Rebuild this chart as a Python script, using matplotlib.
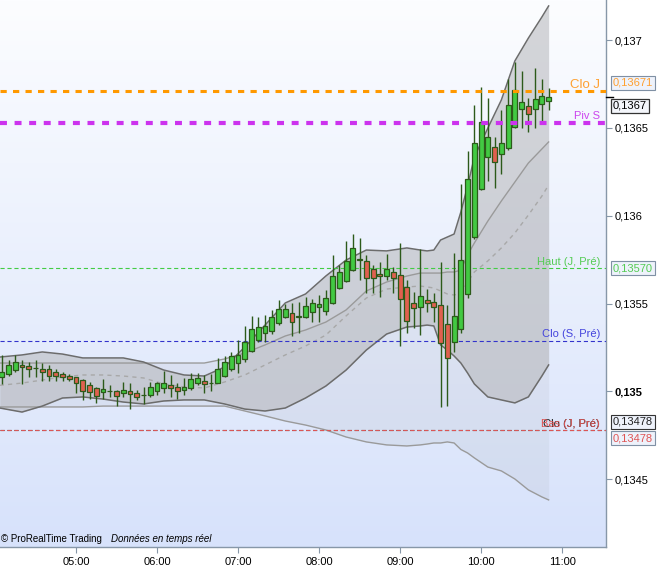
import numpy as np
import matplotlib
matplotlib.use('agg')
import matplotlib.pyplot as plt
import matplotlib.transforms as mtransforms
from matplotlib.colors import LinearSegmentedColormap

plt.rcParams['font.family'] = ['Liberation Sans', 'DejaVu Sans']
plt.rcParams['lines.scale_dashes'] = False

# 5 minute candles, first one at 04:05, prices in units of 0.00001
first_candle = (4, 5)
opens = [13508, 13510, 13512, 13515, 13514.5, 13513.5, 13513, 13513, 13511, 13510,
         13509, 13508, 13506.5, 13503.7, 13501.8, 13499.5, 13500, 13500, 13499, 13500,
         13499, 13498, 13497.8, 13500, 13502, 13503.5, 13502.3, 13500.8, 13502, 13504.6,
         13506, 13505, 13505, 13509, 13512.6, 13516.4, 13518.3, 13523.2, 13529.5, 13533.1,
         13534.6, 13538.8, 13542.6, 13544.5, 13542.2, 13542.2, 13545.4, 13548.3, 13545.8, 13550.6,
         13558.7, 13563.1, 13569.1, 13575.3, 13574.4, 13569.5, 13566.9, 13565.9, 13567.8, 13566.3,
         13559.3, 13550.2, 13548.3, 13551.8, 13550.7, 13549, 13538.2, 13528.3, 13535.4, 13555.3,
         13588.1, 13615, 13633.6, 13639.3, 13634.9, 13638.3, 13650.3, 13660.5, 13662.6, 13660.5,
         13663.4, 13665.5]
highs = [13521, 13518, 13521, 13518, 13517, 13518, 13516, 13515, 13513, 13511,
         13510, 13508.5, 13507, 13505.5, 13502.7, 13507, 13503.7, 13501, 13505.5, 13504.6,
         13500.8, 13502.7, 13505.5, 13505.5, 13511.8, 13509.4, 13504.6, 13507.5, 13510.7, 13510.7,
         13509.4, 13510, 13519, 13520, 13522.6, 13529.3, 13537, 13543, 13542.2, 13543.5,
         13546.4, 13552.1, 13549.8, 13550.2, 13551.1, 13554, 13552.6, 13554.9, 13557.8, 13577.7,
         13572, 13585.8, 13589.6, 13587.2, 13577.7, 13572, 13573.9, 13578.2, 13571, 13584.3,
         13563.4, 13556.8, 13580.9, 13558.1, 13555.8, 13573.5, 13549.2, 13579, 13618, 13637,
         13663, 13673.1, 13666.8, 13644.6, 13660.1, 13678.1, 13687.7, 13682.3, 13666.8, 13683.9,
         13678.1, 13672.7]
lows = [13504, 13509, 13511, 13504, 13508, 13508, 13506, 13506, 13506, 13506,
        13506, 13499, 13495, 13495.5, 13493.6, 13496, 13497, 13492, 13497, 13490,
        13495, 13492.8, 13497, 13498, 13499, 13497, 13496, 13498, 13501, 13503.7,
        13499, 13500, 13504.6, 13508, 13511.8, 13510.7, 13517, 13522.5, 13528.3, 13528.3,
        13533, 13538, 13541.6, 13531.6, 13533.5, 13541.6, 13539.7, 13539.7, 13543.5, 13549.8,
        13558.1, 13562.5, 13568.8, 13563.4, 13556.2, 13555.9, 13554, 13563.4, 13555.9, 13525.9,
        13533.1, 13535.9, 13532.1, 13545.4, 13539.7, 13491.3, 13491.9, 13522.6, 13533.1, 13553,
        13587, 13614.6, 13620, 13615.6, 13623.5, 13637.5, 13650, 13649.7, 13647.8, 13650.1,
        13653.5, 13660.3]
closes = [13511, 13515, 13517, 13514, 13513, 13513.5, 13511, 13509, 13509, 13508,
          13507, 13505, 13500.4, 13499.7, 13497.4, 13501.2, 13500, 13497.4, 13501, 13498.5,
          13496.6, 13498, 13502.3, 13504.6, 13504.6, 13502, 13500, 13502.7, 13506.9, 13507.5,
          13504, 13505, 13513, 13516.6, 13520, 13520.8, 13528.4, 13535.4, 13536.5, 13537.3,
          13542.2, 13546.8, 13546.8, 13539.7, 13543.2, 13548.6, 13550.5, 13549.8, 13553, 13565.9,
          13567.8, 13574.4, 13581.5, 13574.8, 13564.4, 13564.4, 13565.7, 13569.5, 13564.4, 13552.4,
          13540.3, 13547.3, 13554.5, 13550.1, 13547.9, 13527.4, 13518.8, 13543, 13574.8, 13620.9,
          13641.2, 13653.1, 13645, 13630.4, 13641.2, 13663, 13671.5, 13664.9, 13658.2, 13666.2,
          13668.1, 13667.4]

# indicator readings, taken at these candle positions
band_at = [-0.3, 3, 6, 9, 12, 15, 18, 21, 24, 27, 30, 33, 36, 39, 42, 45, 48, 51, 54, 57,
           60, 62, 63, 64, 65, 66, 67, 68, 69, 70, 72, 74, 76, 78, 80, 81]
bb_upper = [13519.6, 13520.8, 13522.5, 13521.3, 13519.1, 13519.1, 13519.1, 13516.8, 13512.2, 13509.4,
            13508.8, 13513.9, 13525.3, 13537.8, 13550.4, 13555.5, 13565.7, 13574.8, 13580.5, 13580.0,
            13581.7, 13580.5, 13580.0, 13580.5, 13586.2, 13587.9, 13589.6, 13602.1, 13616.9, 13633.4,
            13649.9, 13665.9, 13688.1, 13701.1, 13713.1, 13719.4]
bb_lower = [13490.6, 13488.3, 13491.7, 13496.3, 13496.9, 13495.7, 13494.0, 13492.9, 13494.6, 13495.2,
            13495.2, 13492.9, 13490.0, 13488.9, 13490.6, 13496.3, 13503.1, 13512.2, 13523.6, 13532.7,
            13536.7, 13537.3, 13537.8, 13537.3, 13526.5, 13523.6, 13520.2, 13516.2, 13510.5, 13504.3,
            13496.9, 13495.2, 13493.5, 13496.9, 13508.8, 13515.1]
bb_mid = [13503.5, 13504.8, 13506.5, 13508.3, 13509.4, 13509.4, 13508.8, 13507.7, 13504.3, 13502.6,
          13502.0, 13505.4, 13509.4, 13515.1, 13520.8, 13525.9, 13532.1, 13543.0, 13553.2, 13558.3,
          13559.5, 13560.0, 13559.5, 13558.9, 13557.2, 13555.5, 13554.9, 13556.0, 13562.3, 13568.0,
          13574.3, 13581.7, 13590.2, 13600.4, 13611.2, 13617.5]
env_upper = [13516.2, 13516.2, 13516.2, 13516.2, 13516.2, 13516.2, 13516.2, 13516.2, 13516.2, 13516.2,
             13516.2, 13518.5, 13521.9, 13526.5, 13531.6, 13535.0, 13539.5, 13546.4, 13557.2, 13562.3,
             13565.7, 13567.4, 13567.4, 13567.4, 13567.4, 13568.0, 13568.0, 13569.1, 13577.7, 13584.5,
             13597.0, 13608.4, 13619.2, 13630.0, 13638.0, 13642.0]
env_lower = [13491.2, 13491.2, 13491.2, 13491.2, 13491.2, 13491.7, 13491.7, 13491.7, 13491.7, 13491.7,
             13491.7, 13491.7, 13488.9, 13486.1, 13483.2, 13480.9, 13478.1, 13474.1, 13471.3, 13469.6,
             13469.0, 13469.6, 13470.1, 13470.7, 13470.7, 13471.3, 13470.7, 13467.0, 13465.0, 13462.2,
             13457.0, 13454.8, 13450.2, 13444.0, 13440.0, 13438.3]

# horizontal levels
level_names = ['Clo J', 'Piv S', 'Haut (J, Pré)', 'Clo (S, Pré)', 'Clo (J, Pré)', 'Bas (J, Pré)']
level_values = [0.13671, 0.13653, 0.13570, 0.13529, 0.13478, 0.13478]
level_colors = ['#ff9900', '#cc33ee', '#44cc44', '#3333cc', '#333333', '#dd5555']
level_text_colors = ['#ffa030', '#cc44ee', '#55cc55', '#4444dd', '#222222', '#e05555']
level_boxed = [True, False, True, False, True, True]
box_shift = [6, 0, 0, 0, 6, -6]

hour_labels = ['05:00', '06:00', '07:00', '08:00', '09:00', '10:00', '11:00']
ytick_vals = [0.1345, 0.135, 0.1355, 0.136, 0.1365, 0.137]

scale = 1e-5
o = np.array(opens) * scale
h = np.array(highs) * scale
l = np.array(lows) * scale
c = np.array(closes) * scale
idx = np.arange(len(c))

fig = plt.figure(figsize=(6.6, 5.71), dpi=100)
fig.patch.set_facecolor('white')
ax = fig.add_axes([0, 24 / 571, 606 / 660, 547 / 571])

# background gradient
grad = np.linspace(0, 1, 256).reshape(-1, 1)
bg = LinearSegmentedColormap.from_list('bg', ['#fcfdff', '#d7e2fb'])
ax.imshow(grad, extent=[0, 1, 0, 1], transform=ax.transAxes, cmap=bg,
          aspect='auto', zorder=0, interpolation='bilinear')

bx = np.array(band_at)
ax.fill_between(bx, np.array(env_lower) * scale, np.array(env_upper) * scale,
                color='#9ea2ac', alpha=0.13, lw=0, zorder=1)
ax.fill_between(bx, np.array(bb_lower) * scale, np.array(bb_upper) * scale,
                color='#b8b9bd', alpha=0.58, lw=0, zorder=1.1)
ax.plot(bx, np.array(env_upper) * scale, color='#9a9a9a', lw=1.0, zorder=2)
ax.plot(bx, np.array(env_lower) * scale, color='#9a9a9a', lw=1.0, zorder=2)
ax.plot(bx, np.array(bb_mid) * scale, color='#a8a8a8', lw=1.0, dashes=(3, 3), zorder=2)
ax.plot(bx, np.array(bb_upper) * scale, color='#6c6c6c', lw=1.1, zorder=2.1)
ax.plot(bx, np.array(bb_lower) * scale, color='#6c6c6c', lw=1.1, zorder=2.1)

# candles
edge = '#2c5a1a'
body_col = ['#42c942' if cc > oo else ('#e0604f' if cc < oo else edge) for oo, cc in zip(o, c)]
ax.vlines(idx, l, h, color=edge, lw=1.0, zorder=4)
ax.bar(idx, np.abs(c - o), bottom=np.minimum(o, c), width=0.72, color=body_col,
       edgecolor=edge, linewidth=0.9, zorder=5)

# levels
trans = mtransforms.blended_transform_factory(ax.transAxes, ax.transData)
for k, (name, val, col, tcol, boxed, sh) in enumerate(zip(level_names, level_values, level_colors,
                                                          level_text_colors, level_boxed, box_shift)):
    if name == 'Clo J':
        ax.axhline(val, color=col, lw=2.2, dashes=(4.5, 4.5), zorder=6)
        fs = 9.5
    elif name == 'Piv S':
        ax.axhline(val, color=col, lw=3.0, dashes=(5, 5.5), zorder=6)
        fs = 8
    else:
        ax.axhline(val, color=col, lw=0.8, dashes=(3, 2), zorder=3)
        fs = 8
    ax.annotate(name, xy=(0.99, val), xycoords=trans, xytext=(0, 2.5),
                textcoords='offset points', ha='right', va='baseline',
                color=tcol, fontsize=fs, zorder=7 + k * 0.1)
    if boxed:
        ax.annotate(f'{val:.5f}'.replace('.', ','), xy=(1, val), xycoords=trans,
                    xytext=(5, sh), textcoords='offset points', ha='left', va='center',
                    color=tcol, fontsize=8, annotation_clip=False,
                    bbox=dict(boxstyle='square,pad=0.18', fc='#eef2fb',
                              ec='#333333' if name == 'Clo (J, Pré)' else '#7f90a4', lw=0.8))

# current price marker and box
last = c[-1]
ax.plot([1.0, 1.012], [last, last], transform=trans, color='black', lw=1.0, clip_on=False, zorder=8)
ax.annotate(f'{last:.4f}'.replace('.', ','), xy=(1, last), xycoords=trans,
            xytext=(5, -6), textcoords='offset points', ha='left', va='center',
            color='black', fontsize=8, annotation_clip=False,
            bbox=dict(boxstyle='square,pad=0.18', fc='#f4f6fb', ec='#333333', lw=0.9))

# axes
ax.set_xlim(-0.26, 89.5)
ax.set_ylim(0.134115, 0.137228)
ax.yaxis.tick_right()
ax.set_yticks(ytick_vals)
ax.set_yticklabels([f'{v:.4f}'.rstrip('0').replace('.', ',') for v in ytick_vals])
for lab, v in zip(ax.get_yticklabels(), ytick_vals):
    if abs(v - 0.135) < 1e-9:
        lab.set_fontweight('bold')
start_min = first_candle[0] * 60 + first_candle[1]
hour_pos = [(int(s[:2]) * 60 - start_min) / 5 for s in hour_labels]
ax.set_xticks(hour_pos)
ax.set_xticklabels(hour_labels)
ax.tick_params(axis='y', length=4, width=0.8, color='#8797a8', pad=2, labelsize=8)
ax.tick_params(axis='x', length=4, width=0.8, color='#8797a8', pad=3, labelsize=8)
for s in ['top', 'left']:
    ax.spines[s].set_visible(False)
for s in ['right', 'bottom']:
    ax.spines[s].set_color('#8797a8')
    ax.spines[s].set_linewidth(1.0)

ax.text(0.001, 0.005, '© ProRealTime Trading', transform=ax.transAxes, fontsize=7,
        ha='left', va='bottom', zorder=9)
ax.text(0.183, 0.005, 'Données en temps réel', transform=ax.transAxes, fontsize=7,
        style='italic', ha='left', va='bottom', zorder=9)

plt.savefig('out.png', dpi=100)
